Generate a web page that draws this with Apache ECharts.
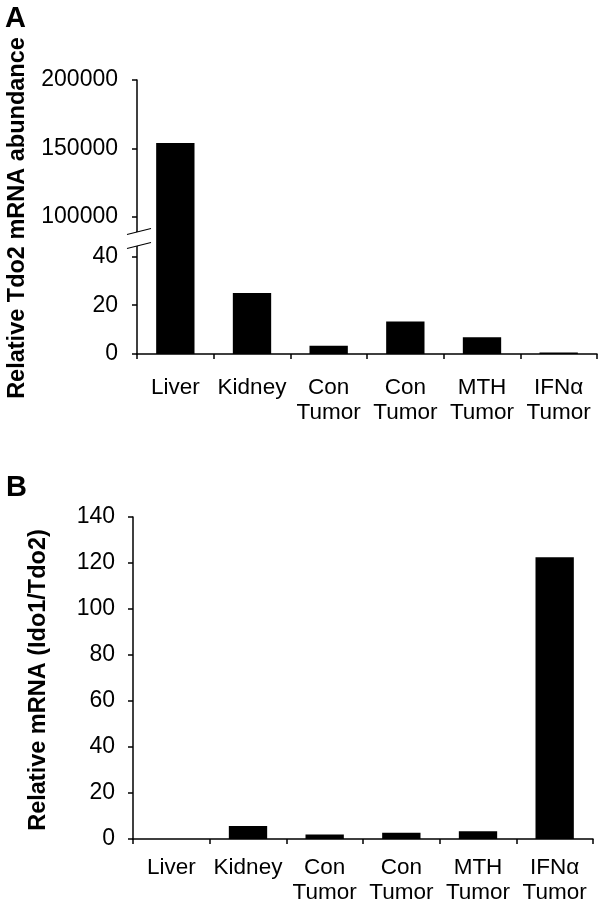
<!DOCTYPE html>
<html>
<head>
<meta charset="utf-8">
<script src="https://cdn.jsdelivr.net/npm/echarts@6/dist/echarts.min.js"></script>
<style>
html,body{margin:0;padding:0;background:#fff;}
#c{width:600px;height:917px;}
</style>
</head>
<body>
<div id="c"></div>
<script>
// ---- data ----
const categories = ['Liver', 'Kidney', 'Con\nTumor', 'Con\nTumor', 'MTH\nTumor', 'IFN\u03b1\nTumor'];
const tdo2Abundance = [154000, 25, 3.4, 13.3, 6.9, 0.6];
const ido1Tdo2Ratio = [0, 5.6, 2.0, 2.7, 3.4, 122.5];
const tdo2UpperTicks = [100000, 150000, 200000];
const tdo2LowerTicks = [0, 20, 40];
const ratioTickStep = 20;
const ratioMax = 140;

// ---- layout ----
const FONT = "'Liberation Sans', Arial, Helvetica, sans-serif";
const aLeft = 137, aRight = 3, aTop = 80, aBreakY = 232, aBottom = 354;
const bLeft = 133, bRight = 7, bTop = 517, bBottom = 839;

const plain = v => String(v);
const axisLineStyle = { show: true, lineStyle: { color: '#000', width: 1.5 } };
const yTick = { show: true, length: 5, lineStyle: { color: '#000', width: 1.5 } };
const xTick = { show: true, length: 5, interval: 0, alignWithLabel: false, lineStyle: { color: '#000', width: 1.5 } };
const yLabel = { color: '#000', fontSize: 23, fontFamily: FONT, margin: 19, formatter: plain };
const xLabel = { color: '#000', fontSize: 22.5, fontFamily: FONT, lineHeight: 25, interval: 0 };

const chart = echarts.init(document.getElementById('c'), null, { renderer: 'canvas' });

const option = {
  backgroundColor: '#fff',
  animation: false,
  grid: [
    { left: aLeft, right: aRight, top: aTop, height: aBreakY - aTop },
    { left: aLeft, right: aRight, top: aBreakY, height: aBottom - aBreakY },
    { left: bLeft, right: bRight, top: bTop, height: bBottom - bTop }
  ],
  xAxis: [
    { type: 'category', gridIndex: 0, data: categories, show: false },
    { type: 'category', gridIndex: 1, data: categories, axisLine: axisLineStyle, axisTick: xTick,
      axisLabel: Object.assign({}, xLabel, { margin: 21 }) },
    { type: 'category', gridIndex: 2, data: categories, axisLine: axisLineStyle, axisTick: xTick,
      axisLabel: Object.assign({}, xLabel, { margin: 16 }) }
  ],
  yAxis: [
    { type: 'value', gridIndex: 0, min: 89000, max: 200000, splitLine: { show: false },
      axisLine: axisLineStyle,
      axisTick: Object.assign({}, yTick, { customValues: tdo2UpperTicks }),
      axisLabel: Object.assign({}, yLabel, { customValues: tdo2UpperTicks }) },
    { type: 'value', gridIndex: 1, min: 0, max: 50, splitLine: { show: false },
      axisLine: axisLineStyle,
      axisTick: Object.assign({}, yTick, { customValues: tdo2LowerTicks }),
      axisLabel: Object.assign({}, yLabel, { customValues: tdo2LowerTicks }) },
    { type: 'value', gridIndex: 2, min: 0, max: ratioMax, interval: ratioTickStep, splitLine: { show: false },
      axisLine: axisLineStyle, axisTick: yTick,
      axisLabel: Object.assign({}, yLabel, { margin: 18 }) }
  ],
  series: [
    { type: 'bar', xAxisIndex: 0, yAxisIndex: 0, data: tdo2Abundance, barWidth: '50%', clip: true,
      itemStyle: { color: '#000' } },
    { type: 'bar', xAxisIndex: 1, yAxisIndex: 1, data: tdo2Abundance, barWidth: '50%', clip: true,
      itemStyle: { color: '#000' } },
    { type: 'bar', xAxisIndex: 2, yAxisIndex: 2, data: ido1Tdo2Ratio, barWidth: '50%', clip: true,
      itemStyle: { color: '#000' } }
  ]
};
chart.setOption(option);

// break marks on the panel A axis
const y1 = aBreakY, y2 = aBreakY + 14;
const x0 = aLeft - 10, x1 = aLeft + 14;
chart.setOption({
  graphic: [
    { type: 'text', left: 5, top: 4, style: { text: 'A', font: "bold 29px " + FONT, fill: '#000' } },
    { type: 'text', left: 6, top: 473, style: { text: 'B', font: "bold 29px " + FONT, fill: '#000' } },
    { type: 'text', x: 18, y: 218, rotation: Math.PI / 2,
      style: { text: 'Relative Tdo2 mRNA abundance', font: "bold 23.5px " + FONT, fill: '#000', align: 'center', verticalAlign: 'middle' } },
    { type: 'text', x: 39, y: 680, rotation: Math.PI / 2,
      style: { text: 'Relative mRNA (Ido1/Tdo2)', font: "bold 23.5px " + FONT, fill: '#000', align: 'center', verticalAlign: 'middle' } },
    { type: 'group', z: 100, children: [
      { type: 'polygon', z: 100, shape: { points: [[x0, y1 + 2.5], [x1, y1 - 3.5], [x1, y2 - 3.5], [x0, y2 + 2.5]] },
        style: { fill: '#fff' } },
      { type: 'line', z: 101, shape: { x1: x0, y1: y1 + 2.5, x2: x1, y2: y1 - 3.5 }, style: { stroke: '#000', lineWidth: 1.2 } },
      { type: 'line', z: 101, shape: { x1: x0, y1: y2 + 2.5, x2: x1, y2: y2 - 3.5 }, style: { stroke: '#000', lineWidth: 1.2 } }
    ] }
  ]
});
</script>
</body>
</html>
